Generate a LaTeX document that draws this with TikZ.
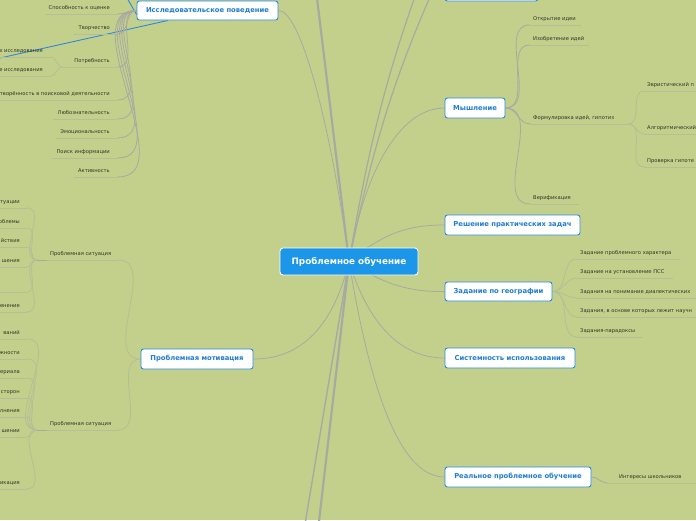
\documentclass[tikz,border=0pt]{standalone}
\usepackage{fontspec}
\setmainfont{DejaVu Sans}
\definecolor{bgc}{RGB}{195,208,139}
\definecolor{tblue}{RGB}{42,138,224}
\definecolor{ttext}{RGB}{30,125,215}
\definecolor{cfill}{RGB}{27,150,232}
\definecolor{lcol}{RGB}{168,170,162}
\definecolor{ucol}{RGB}{182,190,150}
\definecolor{ltext}{RGB}{50,50,40}
\pgfdeclarelayer{bgl}
\pgfdeclarelayer{edges}
\pgfsetlayers{bgl,edges,main}
\tikzset{
 topic/.style={draw=tblue, line width=0.9pt, fill=white, rounded corners=2.5pt, text=ttext, font=\bfseries\fontsize{6.8}{8}\selectfont, inner sep=0pt},
 centre/.style={draw=white, line width=0.9pt, fill=cfill, rounded corners=3pt, text=white, font=\bfseries\fontsize{8.8}{10}\selectfont, minimum width=138pt, minimum height=27pt, inner sep=0pt},
 leaf/.style={text=ltext, font=\fontsize{5.2}{6}\selectfont, inner xsep=0pt, inner ysep=3.2pt, text height=3.8pt, text depth=1.2pt},
 conn/.style={draw=lcol, line width=0.8pt},
 trunk/.style={draw=lcol, line width=2.2pt},
 uline/.style={draw=ucol, line width=0.8pt},
 blueline/.style={draw=tblue, line width=0.9pt},
}
\begin{document}
\begin{tikzpicture}[x=1pt,y=-1pt]
\useasboundingbox (0,0) rectangle (696,520);
\begin{pgfonlayer}{bgl}
\fill[bgc] (0,0) rectangle (696,520);
\end{pgfonlayer}
\clip (0,0) rectangle (696,520);

% main nodes
\node[centre] (pc) at (349,261.5) {Проблемное обучение};
\node[topic, minimum width=141pt, minimum height=19pt] (isl) at (207.5,10.5) {Исследовательское поведение};
\node[topic, minimum width=93pt, minimum height=19pt] (tcut) at (491.5,-8.5) {};
\node[topic, minimum width=60pt, minimum height=20pt] (mysl) at (475,108) {Мышление};
\node[topic, minimum width=135pt, minimum height=20pt] (resh) at (512.5,225) {Решение практических задач};
\node[topic, minimum width=107pt, minimum height=19pt] (zad) at (498.5,291.5) {Задание по географии};
\node[topic, minimum width=130pt, minimum height=20pt] (sist) at (510,358) {Системность использования};
\node[topic, minimum width=146pt, minimum height=20pt] (real) at (518,477) {Реальное проблемное обучение};
\node[topic, minimum width=112pt, minimum height=20pt] (pmot) at (197,359) {Проблемная мотивация};

\coordinate (up1) at (316,-10);
\coordinate (up2) at (418,-12);
\coordinate (up3) at (434,-12);
\coordinate (dn1) at (304,530);
\coordinate (dn2) at (318,530);
\coordinate (bl1) at (0,58);
\coordinate (bl2) at (127,-2);

% top-left leaves
\node[leaf,anchor=east] (i1) at (110,8) {Способность к оценке};
\node[leaf,anchor=east] (i2) at (110,28) {Творчество};
\node[leaf,anchor=east] (i3) at (110,61) {Потребность};
\node[leaf,anchor=east] (i4) at (110,94) {творённость в поисковой деятельности};
\node[leaf,anchor=east] (i5) at (110,113) {Любознательность};
\node[leaf,anchor=east] (i6) at (110,132) {Эмоциональность};
\node[leaf,anchor=east] (i7) at (110,152) {Поиск информации};
\node[leaf,anchor=east] (i8) at (110,171) {Активность};
\node[leaf,anchor=east] (p1) at (43,51) {х исследования};
\node[leaf,anchor=east] (p2) at (43,70) {е исследования};

% right leaves
\node[leaf,anchor=west] (m1) at (533,19) {Открытие идеи};
\node[leaf,anchor=west] (m2) at (533,39) {Изобретение идей};
\node[leaf,anchor=west] (m3) at (533,118) {Формулировка идей, гипотиз};
\node[leaf,anchor=west] (m4) at (533,198) {Верификация};
\node[leaf,anchor=west] (f1) at (647,85) {Эвристический п};
\node[leaf,anchor=west] (f2) at (647,128) {Алгоритмический};
\node[leaf,anchor=west] (f3) at (647,161) {Проверка гипоте};
\node[leaf,anchor=west] (z1) at (580,253) {Задание проблемного характера};
\node[leaf,anchor=west] (z2) at (580,272) {Задание на установление ПСС};
\node[leaf,anchor=west] (z3) at (580,292) {Задания на понимание диалектических};
\node[leaf,anchor=west] (z4) at (580,311) {Задания, в основе которых лежит научн};
\node[leaf,anchor=west] (z5) at (580,331) {Задания-парадоксы};
\node[leaf,anchor=west] (r1) at (619,477) {Интересы школьников};

% left lower leaves
\node[leaf,anchor=west] (s1) at (50,254) {Проблемная ситуация};
\node[leaf,anchor=west] (s2) at (50,424) {Проблемная ситуация};
\node[leaf,anchor=east] (a1) at (20,202) {итуации};
\node[leaf,anchor=east] (a2) at (20,222) {облемы};
\node[leaf,anchor=east] (a3) at (20,241) {йствия};
\node[leaf,anchor=east] (a4) at (20,261) {шения};
\coordinate (a5) at (27,292);
\node[leaf,anchor=east] (a6) at (20,306) {енение};
\node[leaf,anchor=east] (b1) at (20,333) {ваний};
\node[leaf,anchor=east] (b2) at (20,353) {жности};
\node[leaf,anchor=east] (b3) at (20,372) {ериала};
\node[leaf,anchor=east] (b4) at (20,392) {сторон};
\node[leaf,anchor=east] (b5) at (20,411) {лнения};
\node[leaf,anchor=east] (b6) at (20,431) {шении};
\node[leaf,anchor=east] (b7) at (20,483) {икация};

\begin{pgfonlayer}{edges}
% central connectors
\draw[conn] (pc.center) .. controls (365,170) and (400,108) .. (mysl.west);
\draw[conn] (pc.center) .. controls (385,232) and (410,225) .. (resh.west);
\draw[conn] (pc.center) .. controls (385,285) and (410,292) .. (zad.west);
\draw[conn] (pc.center) .. controls (370,330) and (405,358) .. (sist.west);
\draw[conn] (pc.center) .. controls (370,390) and (400,477) .. (real.west);
\draw[conn] (pc.center) .. controls (330,340) and (290,359) .. (pmot.east);
\draw[conn] (pc.center) .. controls (330,120) and (300,10) .. (isl.east);
\draw[trunk] (pc.center) -- (up1);
\draw[conn, line width=1.2pt] (pc.center) .. controls (368,150) and (385,80) .. (up2);
\draw[conn, line width=1.2pt] (pc.center) .. controls (372,150) and (393,80) .. (up3);
\draw[conn, line width=1.4pt] (pc.center) -- (dn1);
\draw[trunk] (pc.center) -- (dn2);
\draw[blueline] ([xshift=-39.5pt]isl.south) -- (bl1);
\draw[blueline] (bl2) -- ([yshift=-4pt]isl.west);

% top-left
\foreach \n in {i1,i2,i4,i5,i6,i7,i8}{
  \draw[uline] ([xshift=-4pt]\n.south west) -- ([xshift=8pt]\n.south east);
  \draw[conn] ([xshift=8pt]\n.south east) to[out=0,in=180] (isl.west);
}
\draw[uline] ([xshift=-12pt]i3.south west) -- ([xshift=8pt]i3.south east);
\draw[conn] ([xshift=8pt]i3.south east) to[out=0,in=180] (isl.west);
\foreach \n in {p1,p2}{
  \draw[uline] ([xshift=-4pt]\n.south west) -- ([xshift=8pt]\n.south east);
  \draw[uline] ([xshift=8pt]\n.south east) to[out=0,in=180] ([xshift=-12pt]i3.south west);
}

% Мышление
\foreach \n/\e in {m1/5,m2/5,m4/8}{
  \draw[uline] ([xshift=-3pt]\n.south west) -- ([xshift=\e pt]\n.south east);
  \draw[conn] (mysl.east) to[out=0,in=180] ([xshift=-3pt]\n.south west);
}
\draw[uline] ([xshift=-3pt]m3.south west) -- ([xshift=14pt]m3.south east);
\draw[conn] (mysl.east) to[out=0,in=180] ([xshift=-3pt]m3.south west);
\foreach \n in {f1,f2,f3}{
  \draw[uline] ([xshift=-3pt]\n.south west) -- ([xshift=30pt]\n.south east);
  \draw[uline] ([xshift=14pt]m3.south east) to[out=0,in=180] ([xshift=-3pt]\n.south west);
}
% Задание
\foreach \n in {z1,z2,z3,z4,z5}{
  \draw[uline] ([xshift=-3pt]\n.south west) -- ([xshift=8pt]\n.south east);
  \draw[uline] (zad.east) to[out=0,in=180] ([xshift=-3pt]\n.south west);
}
% Реальное
\draw[uline] ([xshift=-12pt]r1.south west) -- ([xshift=30pt]r1.south east);
\draw[conn] (real.east) to[out=0,in=180] ([xshift=-12pt]r1.south west);

% Проблемная мотивация
\foreach \n in {s1,s2}{
  \draw[uline] ([xshift=-13pt]\n.south west) -- ([xshift=7pt]\n.south east);
  \draw[conn] ([xshift=-13pt]\n.south west) -- ([xshift=-3pt]\n.south west);
  \draw[uline] ([xshift=7pt]\n.south east) to[out=0,in=180] (pmot.west);
}
\foreach \n in {a1,a2,a3,a4,a6}{
  \draw[uline] ([xshift=-30pt]\n.south east) -- ([xshift=7pt]\n.south east);
  \draw[uline] ([xshift=7pt]\n.south east) to[out=0,in=180] ([xshift=-13pt]s1.south west);
}
\draw[uline] (0,292) -- (a5);
\draw[uline] (a5) to[out=0,in=180] ([xshift=-13pt]s1.south west);
\foreach \n in {b1,b2,b3,b4,b5,b6,b7}{
  \draw[uline] ([xshift=-30pt]\n.south east) -- ([xshift=7pt]\n.south east);
  \draw[uline] ([xshift=7pt]\n.south east) to[out=0,in=180] ([xshift=-13pt]s2.south west);
}
\end{pgfonlayer}
\end{tikzpicture}
\end{document}
